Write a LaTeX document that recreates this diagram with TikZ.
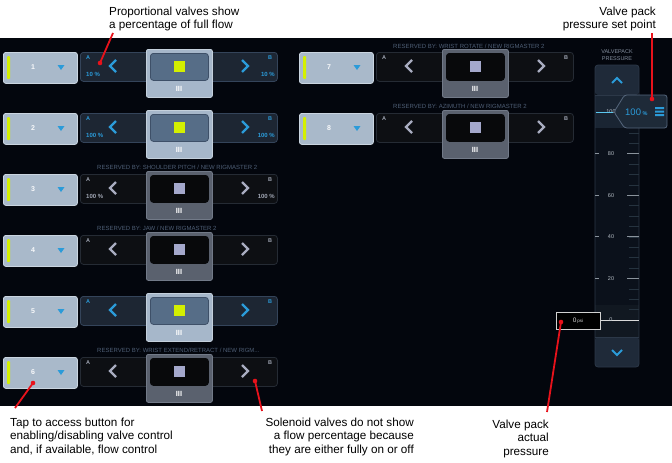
\documentclass[tikz,border=0pt]{standalone}
\usepackage{fontspec}
\setmainfont{Liberation Sans}
\usetikzlibrary{calc}
\definecolor{panelbg}{HTML}{03060D}
\definecolor{btnfill}{HTML}{A9B9CA}
\definecolor{btnborder}{HTML}{CAD5E0}
\definecolor{ylw}{HTML}{D4F000}
\definecolor{uiblue}{HTML}{2B9BD9}
\definecolor{pfill}{HTML}{1D2633}
\definecolor{pborder}{HTML}{34445A}
\definecolor{sfill}{HTML}{0D0F13}
\definecolor{sborder}{HTML}{252B34}
\definecolor{psl}{HTML}{A6B7CA}
\definecolor{pslb}{HTML}{C4D0DC}
\definecolor{pin}{HTML}{566D87}
\definecolor{pinb}{HTML}{3E5068}
\definecolor{ssl}{HTML}{5A616E}
\definecolor{sslb}{HTML}{727A88}
\definecolor{sin}{HTML}{08090B}
\definecolor{lav}{HTML}{A4A8CC}
\definecolor{chgray}{HTML}{A8ACC0}
\definecolor{slblc}{HTML}{A0A6B4}
\definecolor{resvc}{HTML}{4E5E75}
\definecolor{annred}{HTML}{E8121B}
\definecolor{scalebg}{HTML}{0B111B}
\definecolor{scaleb}{HTML}{2C3848}
\definecolor{btnpan}{HTML}{1F2A39}
\definecolor{hlt}{HTML}{1A2533}
\definecolor{hlt2}{HTML}{111821}
\definecolor{minort}{HTML}{26333F}
\definecolor{majort}{HTML}{8A939C}
\definecolor{cyanl}{HTML}{5CC8F0}
\definecolor{popfill}{HTML}{1E2A38}
\definecolor{popb}{HTML}{55667C}
\definecolor{scalelbl}{HTML}{B4BCC4}

\newcommand{\valverow}[6]{%
 \begin{scope}[shift={(#2,#3)}]
 \node[btn] (#1btn) at (3,0) {};
 \node[ybar] (#1bar) at (8.5,15.5) {};
 \node[numtxt] (#1num) at (33,15.5) {#4};
 \fill[uiblue] (57.5,13) -- (64.5,13) -- (61,18) -- cycle;
 \node[#5body] (#1body) at (80,0) {};
 \node[#5lbl] (#1A) at (88,6) {A};
 \node[#5lbl] (#1B) at (270,6) {B};
 \node[#5pct, anchor=west] (#1pa) at (86,22) {#6};
 \node[#5pct, anchor=east] (#1pb) at (275,22) {#6};
 \draw[#5chev] (116,8) -- (110,14) -- (116,20);
 \draw[#5chev] (242,8) -- (248,14) -- (242,20);
 \node[#5slider] (#1sl) at (146,-3) {};
 \node[#5inner] (#1in) at (150,1) {};
 \node[#5sq] (#1sq) at (179,14.5) {};
 \node[grip] (#1grip) at (179,37) {III};
 \end{scope}}

\begin{document}
\begin{tikzpicture}[x=1pt,y=-1pt,
 btn/.style={draw=btnborder, fill=btnfill, rounded corners=2.5pt, line width=0.8pt, minimum width=74pt, minimum height=31pt, anchor=north west, inner sep=0},
 ybar/.style={fill=ylw, rounded corners=1pt, minimum width=3pt, minimum height=23pt, inner sep=0},
 numtxt/.style={text=white!92!btnfill, font=\bfseries\fontsize{7}{8}\selectfont, inner sep=0},
 pbody/.style={draw=pborder, fill=pfill, rounded corners=3pt, line width=0.8pt, minimum width=197pt, minimum height=29pt, anchor=north west, inner sep=0},
 sbody/.style={draw=sborder, fill=sfill, rounded corners=3pt, line width=0.8pt, minimum width=197pt, minimum height=29pt, anchor=north west, inner sep=0},
 pslider/.style={draw=pslb, fill=psl, rounded corners=2pt, line width=0.8pt, minimum width=66pt, minimum height=48pt, anchor=north west, inner sep=0},
 sslider/.style={draw=sslb, fill=ssl, rounded corners=2pt, line width=0.8pt, minimum width=66pt, minimum height=48pt, anchor=north west, inner sep=0},
 pinner/.style={draw=pinb, fill=pin, rounded corners=3pt, line width=0.8pt, minimum width=58pt, minimum height=27pt, anchor=north west, inner sep=0},
 sinner/.style={draw=sin, fill=sin, rounded corners=3pt, line width=0.8pt, minimum width=58pt, minimum height=27pt, anchor=north west, inner sep=0},
 psq/.style={fill=ylw, minimum size=11pt, inner sep=0},
 ssq/.style={fill=lav, minimum size=11pt, inner sep=0},
 pchev/.style={draw=uiblue, line width=2.3pt},
 schev/.style={draw=chgray, line width=2.3pt},
 plbl/.style={text=uiblue, font=\bfseries\fontsize{5.5}{6}\selectfont, inner sep=0},
 slbl/.style={text=slblc, font=\bfseries\fontsize{5.5}{6}\selectfont, inner sep=0},
 ppct/.style={text=uiblue, font=\bfseries\fontsize{6}{7}\selectfont, inner sep=0},
 spct/.style={text=slblc, font=\bfseries\fontsize{6}{7}\selectfont, inner sep=0},
 grip/.style={text=white, font=\bfseries\fontsize{7.5}{8}\selectfont, inner sep=0},
 resv/.style={text=resvc, font=\fontsize{6}{7}\selectfont, anchor=west, inner sep=0},
 ann/.style={text=black, font=\fontsize{11.7}{13.8}\selectfont, inner sep=0},
 redline/.style={draw=annred, line width=1.8pt},
 reddot/.style={circle, fill=annred, minimum size=4.6pt, inner sep=0},
 scl/.style={text=scalelbl, font=\fontsize{5.5}{6}\selectfont, inner sep=0},
]
\useasboundingbox (0,0) rectangle (672,463);
\fill[white] (0,0) rectangle (672,463);
\fill[panelbg] (0,38) rectangle (672,406);

% valve rows, column 1
\valverow{v1}{0}{52}{1}{p}{10 \%}
\valverow{v2}{0}{113}{2}{p}{100 \%}
\valverow{v3}{0}{174}{3}{s}{100 \%}
\valverow{v4}{0}{235}{4}{s}{}
\valverow{v5}{0}{296}{5}{p}{}
\valverow{v6}{0}{357}{6}{s}{}
% column 2
\valverow{v7}{296}{52}{7}{s}{}
\valverow{v8}{296}{113}{8}{s}{}

\node[resv] (r3) at (97,167) {RESERVED BY: SHOULDER PITCH / NEW RIGMASTER 2};
\node[resv] (r4) at (97,228) {RESERVED BY: JAW / NEW RIGMASTER 2};
\node[resv] (r6) at (97,350) {RESERVED BY: WRIST EXTEND/RETRACT / NEW RIGM...};
\node[resv] (r7) at (393,46) {RESERVED BY: WRIST ROTATE / NEW RIGMASTER 2};
\node[resv] (r8) at (393,106) {RESERVED BY: AZIMUTH / NEW RIGMASTER 2};

% pressure panel
\node[text=resvc!70!white, font=\fontsize{5.5}{6.3}\selectfont, align=center, inner sep=0] (vpt) at (617,55) {VALVEPACK\\PRESSURE};
\fill[scalebg] (595,95) rectangle (639,337);
\fill[hlt] (595,95) rectangle (627,128);
\fill[hlt2] (595,305) rectangle (639,337);
\fill[btnpan, rounded corners=3pt] (595,65) -- (595,95) -- (639,95) -- (639,65) -- cycle;
\fill[btnpan, rounded corners=3pt] (595,337) -- (595,367) -- (639,367) -- (639,337) -- cycle;
\draw[scaleb, line width=0.8pt] (595,95) -- (639,95) (595,337) -- (639,337);
\draw[scaleb, line width=0.8pt, rounded corners=3pt] (595,65) rectangle (639,367);
\draw[uiblue, line width=2pt] (612,83) -- (617,78) -- (622,83);
\draw[uiblue, line width=2pt] (612,350) -- (617,355) -- (622,350);
% ticks
\foreach \v in {5,10,...,95}{
  \draw[minort, line width=0.6pt] (629,{320-2.08*\v}) -- (639,{320-2.08*\v});
}
\foreach \v in {20,40,60,80}{
  \draw[majort, line width=0.8pt] (627,{320-2.08*\v}) -- (639,{320-2.08*\v});
  \draw[majort, line width=0.8pt] (595,{320-2.08*\v}) -- (599,{320-2.08*\v});
}
\node[scl] (s80) at (611,153.6) {80};
\node[scl] (s60) at (611,195.2) {60};
\node[scl] (s40) at (611,236.8) {40};
\node[scl] (s20) at (611,278.4) {20};
\node[scl] (s100) at (611,112) {100};
\draw[cyanl, line width=1pt] (595.5,112) -- (613,112);
% setpoint popup
\draw[popb, fill=popfill, line width=0.8pt, rounded corners=2.5pt] (614,112) -- (624.5,95) -- (667,95) -- (667,128) -- (624.5,128) -- cycle;
\node[text=uiblue, inner sep=0, anchor=west] (pct) at (625,112.5) {\fontsize{9.5}{10}\selectfont 100\,\fontsize{5.5}{6}\selectfont\bfseries \%};
\fill[uiblue] (655,107) rectangle (664,109) (655,110.5) rectangle (664,112.5) (655,114) rectangle (664,116);
% actual pressure
\draw[white!85!black, line width=0.8pt] (600,320) -- (639,320);
\node[scl] (s0) at (611,320) {0};
\node[draw=white!82!black, fill=black, line width=0.8pt, minimum width=44pt, minimum height=17pt, inner sep=0] (psi) at (578,320.5) {\textcolor{white!85!black}{\fontsize{6.5}{7}\selectfont 0\,\fontsize{4.5}{5}\selectfont psi}};

% annotations
\node[ann, align=left, anchor=north west] (a1) at (109,6.5) {Proportional valves show\\a percentage of full flow};
\node[ann, align=right, anchor=north east] (a2) at (656,6.5) {Valve pack\\pressure set point};
\node[ann, align=left, anchor=north west] (a3) at (10,417.5) {Tap to access button for\\enabling/disabling valve control\\and, if available, flow control};
\node[ann, align=right, anchor=north east] (a4) at (414,417.5) {Solenoid valves do not show\\a flow percentage because\\they are either fully on or off};
\node[ann, align=right, anchor=north east] (a5) at (549,419.5) {Valve pack\\actual\\pressure};

\node[reddot] (d1) at (100,63) {};
\node[reddot] (d2) at (652,99) {};
\node[reddot] (d3) at (33,383) {};
\node[reddot] (d4) at (255,381) {};
\node[reddot] (d5) at (561,322) {};
\coordinate (e1) at (113,33);
\coordinate (e2) at (652,33);
\coordinate (e3) at (15,408);
\coordinate (e4) at (262,411);
\coordinate (e5) at (547,412);
\draw[redline] (e1) -- (d1.center);
\draw[redline] (e2) -- (d2.center);
\draw[redline] (e3) -- (d3.center);
\draw[redline] (e4) -- (d4.center);
\draw[redline] (e5) -- (d5.center);
\end{tikzpicture}
\end{document}
